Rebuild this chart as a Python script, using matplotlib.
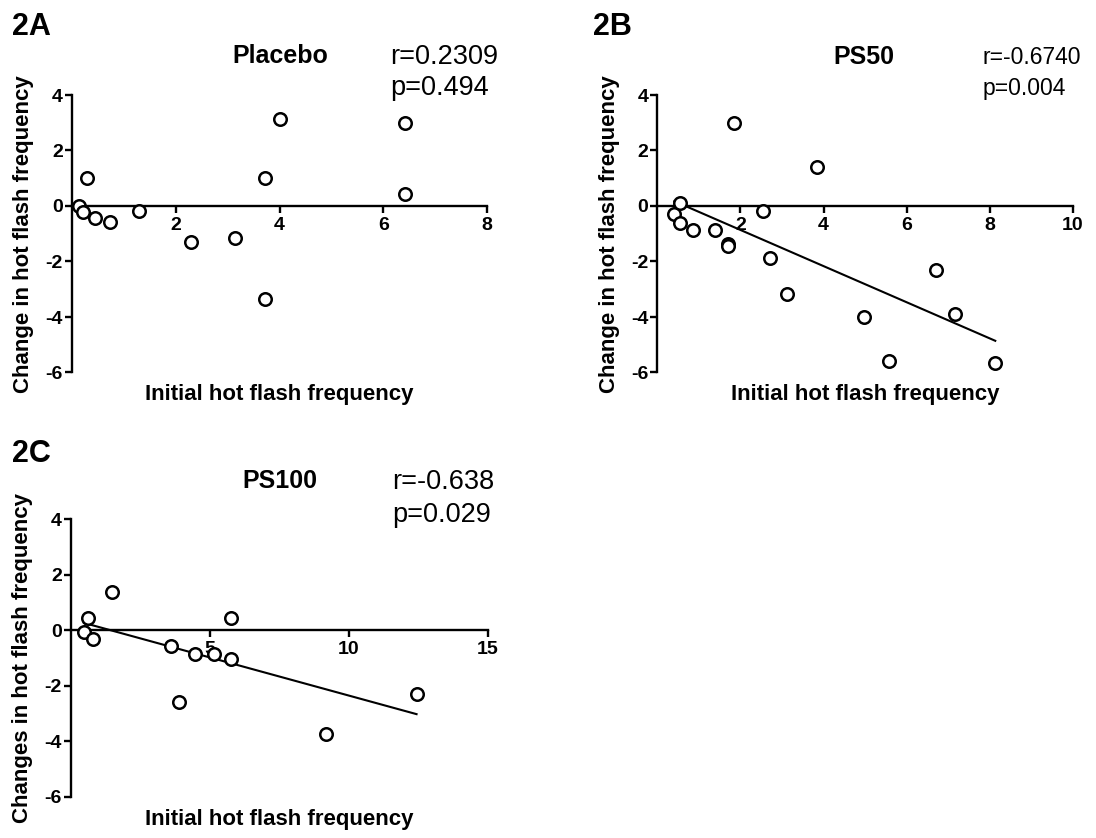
import numpy as np
import matplotlib
matplotlib.use("Agg")
from matplotlib import pyplot as plt

plt.rcParams['font.family'] = ['Liberation Sans', 'DejaVu Sans']
plt.rcParams['axes.unicode_minus'] = False

# values
placebo_x = [0.14, 0.21, 0.30, 0.45, 0.73, 1.30, 2.29, 3.15, 3.72, 3.72, 4.00, 6.42, 6.42]
placebo_y = [0.00, -0.20, 1.00, -0.42, -0.59, -0.17, -1.29, -1.14, 1.00, -3.36, 3.12, 2.98, 0.42]

ps50_x = [0.41, 0.55, 0.55, 0.85, 1.40, 1.70, 1.70, 1.84, 2.55, 2.70, 3.13, 3.85, 4.98, 5.57, 6.71, 7.15, 8.13]
ps50_y = [-0.30, 0.12, -0.60, -0.88, -0.88, -1.38, -1.44, 3.00, -0.17, -1.87, -3.16, 1.42, -4.01, -5.59, -2.29, -3.88, -5.65]

ps100_x = [0.47, 0.62, 0.78, 1.47, 3.60, 3.89, 4.47, 5.16, 5.74, 5.74, 9.16, 12.43]
ps100_y = [-0.06, 0.43, -0.31, 1.37, -0.56, -2.57, -0.85, -0.85, -1.02, 0.43, -3.73, -2.28]

yticks = [-6, -4, -2, 0, 2, 4]
W, H = 1096, 838

fig = plt.figure(figsize=(W/100, H/100), dpi=100)


def px_rect(x0, x1, ytop, ybot):
    return [x0/W, 1-ybot/H, (x1-x0)/W, (ybot-ytop)/H]


def panel(rect, xs, ys, xmax, xticks, ylabel, fit=False):
    ax = fig.add_axes(rect)
    ax.plot(xs, ys, 'o', ms=9, mfc='white', mec='black', mew=1.8, clip_on=False, zorder=3)
    if fit:
        k, b = np.polyfit(xs, ys, 1)
        xx = np.array([min(xs), max(xs)])
        ax.plot(xx, k*xx+b, color='black', lw=1.5, zorder=2)
    ax.set_xlim(0, xmax)
    ax.set_ylim(-6, 4)
    ax.set_xticks(xticks)
    ax.set_yticks(yticks)
    for s in ['top', 'right']:
        ax.spines[s].set_visible(False)
    ax.spines['bottom'].set_position(('data', 0))
    for s in ['left', 'bottom']:
        ax.spines[s].set_linewidth(1.7)
    ax.tick_params(width=1.7, length=5, labelsize=14)
    ax.tick_params(axis='x', pad=3)
    ax.tick_params(axis='y', pad=1.5)
    for t in ax.get_xticklabels() + ax.get_yticklabels():
        t.set_fontweight('bold')
    ax.set_xlabel('Initial hot flash frequency', fontsize=16, fontweight='bold', va='center')
    ax.xaxis.set_label_coords(0.5, -0.081)
    ax.set_ylabel(ylabel, fontsize=16, fontweight='bold', va='center')
    ax.yaxis.set_label_coords(-0.116, 0.5)
    return ax


def ftext(x, y, s, **kw):
    fig.text(x/W, 1-y/H, s, va='baseline', ha='left', **kw)


panel(px_rect(71.7, 487.3, 95, 372.5), placebo_x, placebo_y, 8, [2, 4, 6, 8],
      'Change in hot flash frequency')
panel(px_rect(657.3, 1073, 95, 372.5), ps50_x, ps50_y, 10, [2, 4, 6, 8, 10],
      'Change in hot flash frequency', fit=True)
panel(px_rect(71, 488, 519.3, 796.7), ps100_x, ps100_y, 15, [5, 10, 15],
      'Changes in hot flash frequency', fit=True)

ftext(12, 35, '2A', fontsize=22, fontweight='bold')
ftext(232, 63, 'Placebo', fontsize=18, fontweight='bold')
ftext(390, 64, 'r=0.2309', fontsize=19.5)
ftext(390, 95, 'p=0.494', fontsize=19.5)

# the PS50 stats are narrower in the original
ftext(593, 35, '2B', fontsize=22, fontweight='bold')
ftext(833, 64, 'PS50', fontsize=18, fontweight='bold')
ftext(983, 64, 'r=-0.6740', fontsize=16.5)
ftext(983, 95, 'p=0.004', fontsize=16.5)

ftext(12, 462, '2C', fontsize=22, fontweight='bold')
ftext(242, 488, 'PS100', fontsize=18, fontweight='bold')
ftext(392, 489, 'r=-0.638', fontsize=19.5)
ftext(392, 522, 'p=0.029', fontsize=19.5)

plt.savefig('out.png', dpi=100)
